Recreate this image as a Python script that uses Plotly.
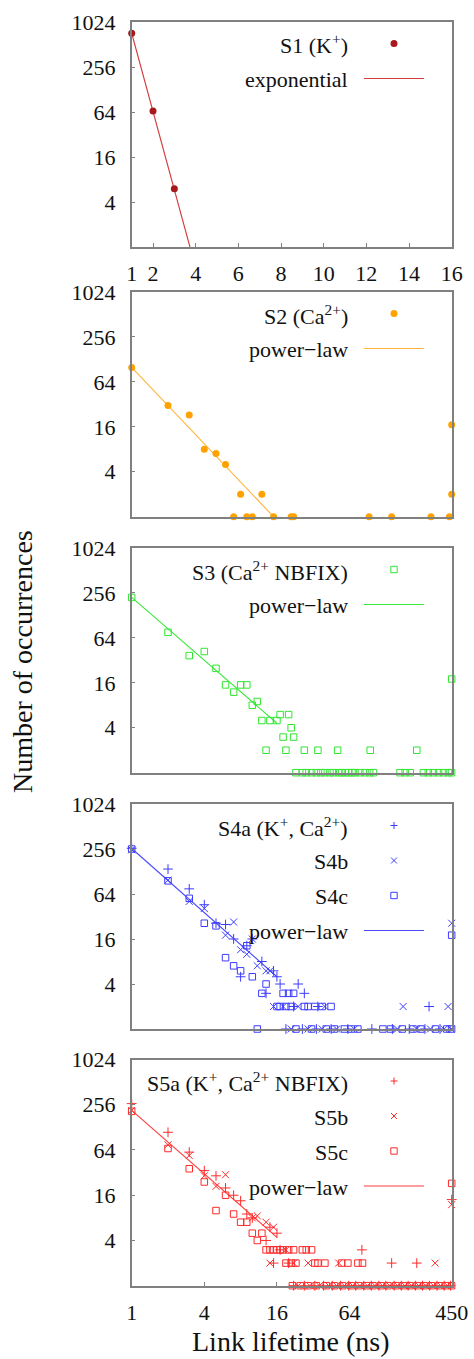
import math
import plotly.graph_objects as go

W, H = 474, 1359
FONT = "Liberation Serif"
FRAME = "#808080"
TEXT = "#111111"

# ---------------- data ----------------
# S1 (K+) with exponential fit
s1_x = [1, 2, 3]
s1_y = [724, 66, 6]
s1_fit_x = [1, 3.73]
s1_fit_y = [724, 1]

# S2 (Ca2+) with power-law fit
s2_x = [1, 2, 3, 4, 5, 6, 8, 12, 7, 9, 10, 15, 21, 22, 93, 143, 303, 431, 450, 450]
s2_y = [100, 31, 23, 8, 7, 5, 2, 2, 1, 1, 1, 1, 1, 1, 1, 1, 1, 1, 17, 2]
s2_fit_x = [1, 15]
s2_fit_y = [100, 1]

# S3 (Ca2+ NBFIX) with power-law fit
s3_x = [1, 2, 3, 4, 5, 6, 7, 8, 9, 10, 11, 12, 14, 16, 17, 20, 21, 18, 22,
        13, 19, 27, 35, 51, 95, 231, 450,
        23, 26, 28, 31, 34, 37, 40, 44, 47, 52, 55, 59, 63, 67, 71, 78, 86,
        94, 101, 168, 185, 204, 262, 288, 317, 350, 385, 423, 449]
s3_y = [223, 76, 37, 42, 25, 15, 12, 15, 15, 8, 9, 5, 5, 5, 6, 6, 4, 3, 3,
        2, 2, 2, 2, 2, 2, 2, 18,
        1, 1, 1, 1, 1, 1, 1, 1, 1, 1, 1, 1, 1, 1, 1, 1, 1,
        1, 1, 1, 1, 1, 1, 1, 1, 1, 1, 1, 1]
s3_fit_x = [1, 16]
s3_fit_y = [223, 4.6]

# S4a / S4b / S4c (K+, Ca2+) with power-law fit
s4a_x = [1, 2, 3, 4, 5, 6, 7, 8, 9, 10, 12, 15, 16, 17, 24, 13, 27, 22, 35, 292,
         19, 26, 34, 45, 62, 98, 145, 200, 270, 360]
s4a_y = [262, 138, 75, 46, 26, 25, 16, 5, 13, 16, 8, 6, 5, 4, 4, 3, 3, 2, 2, 2,
         1, 1, 1, 1, 1, 1, 1, 1, 1, 1]
s4b_x = [1, 2, 3, 4, 6, 7, 8, 9, 10, 11, 13, 14, 450,
         15, 18, 24, 40, 178, 420,
         21, 29, 38, 50, 70, 160, 230, 300, 390, 445]
s4b_y = [250, 98, 51, 41, 18, 27, 11.5, 10, 16, 7, 6, 6, 26,
         2, 2, 2, 2, 2, 2,
         1, 1, 1, 1, 1, 1, 1, 1, 1, 1]
s4c_x = [1, 2, 3, 4, 5, 6, 7, 8, 9, 10, 13, 12, 18, 20, 22, 450,
         16, 17, 19, 21, 27, 29, 33, 38, 45,
         11, 23, 31, 41, 48, 58, 66, 75, 121, 140, 175, 215, 250, 330, 410, 449]
s4c_y = [256, 96, 56, 26, 24, 9, 7, 6, 13, 5, 4, 3, 3, 3, 3, 18,
         2, 2, 2, 2, 2, 2, 2, 2, 2,
         1, 1, 1, 1, 1, 1, 1, 1, 1, 1, 1, 1, 1, 1, 1, 1]
s4_fit_x = [1, 16]
s4_fit_y = [260, 5]

# S5a / S5b / S5c (K+, Ca2+ NBFIX) with power-law fit
s5a_x = [1, 2, 3, 4, 5, 6, 7, 8, 9, 10, 13, 14, 16, 17, 81, 15, 20, 143, 231, 450,
         22, 27, 33, 39, 46, 54, 63, 72, 84, 97, 112, 128, 150, 172, 196, 225,
         258, 295, 340, 390, 440]
s5a_y = [265, 110, 60, 34, 29, 20, 16, 13.5, 9, 8, 4, 6, 5, 3, 3, 2, 2, 2, 2, 14,
         1, 1, 1, 1, 1, 1, 1, 1, 1, 1, 1, 1, 1, 1, 1, 1,
         1, 1, 1, 1, 1]
s5b_x = [1, 2, 3, 4, 5, 6, 10, 11, 13, 15, 19, 450,
         14, 22, 29, 52, 328,
         24, 30, 36, 43, 50, 58, 68, 78, 90, 104, 120, 138, 160, 184, 210, 240,
         275, 318, 365, 415]
s5b_y = [215, 75, 54, 29, 21, 30, 8, 8.5, 7, 6, 3, 12,
         2, 2, 2, 2, 2,
         1, 1, 1, 1, 1, 1, 1, 1, 1, 1, 1, 1, 1, 1, 1, 1,
         1, 1, 1, 1]
s5c_x = [1, 2, 3, 4, 5, 6, 7, 8, 9, 10, 11, 12, 450,
         13, 14, 15, 16, 17, 18, 20, 22, 26, 28, 31,
         19, 21, 23, 33, 35, 40, 55, 62, 75, 82,
         21.5, 25, 29, 34, 41, 48, 56, 66, 76, 88, 100, 116, 133, 155, 178, 202,
         232, 265, 305, 352, 400, 449]
s5c_y = [209, 67, 36, 24, 10, 16, 9, 7, 7, 5, 4, 5, 23,
         3, 3, 3, 3, 3, 3, 3, 3, 3, 3, 3,
         2, 2, 2, 2, 2, 2, 2, 2, 2, 2,
         1, 1, 1, 1, 1, 1, 1, 1, 1, 1, 1, 1, 1, 1, 1, 1,
         1, 1, 1, 1, 1, 1]
s5_fit_x = [1, 16]
s5_fit_y = [215, 4.4]

y_ticks = [4, 16, 64, 256, 1024]
x_ticks_lin = [1, 2, 4, 6, 8, 10, 12, 14, 16]
x_ticks_log = [1, 4, 16, 64, 450]

# ---------------- colours ----------------
C1, C1L = "#a8181c", "#d33a3a"
C2, C2L = "#ffa200", "#ffb43c"
C3, C3L = "#2fe62f", "#3ae83a"
C4, C4L = "#3c3cff", "#4a4aff"
C5, C5L = "#ff2a2a", "#ff3c3c"

# ---------------- geometry (pixels) ----------------
X_LEFT, X_RIGHT = 131.7, 451.7
PANELS = [(22, 247), (292, 516.7), (548, 772.7), (804, 1029), (1059.5, 1285.7)]


def fx(px):
    return px / W


def fy(py):
    return 1 - py / H


fig = go.Figure()


def axis_ref(i):
    return ("x", "y") if i == 1 else (f"x{i}", f"y{i}")


def add_points(i, xs, ys, symbol, color, size):
    xr, yr = axis_ref(i)
    fig.add_trace(go.Scatter(
        x=xs, y=ys, mode="markers", xaxis=xr, yaxis=yr,
        marker=dict(symbol=symbol, color=color, size=size,
                    line=dict(width=0 if symbol == "circle" else 1, color=color)),
        cliponaxis=False, showlegend=False, hoverinfo="skip"))


def add_fit(i, xs, ys, color):
    xr, yr = axis_ref(i)
    fig.add_trace(go.Scatter(
        x=xs, y=ys, mode="lines", xaxis=xr, yaxis=yr,
        line=dict(color=color, width=1.1),
        cliponaxis=False, showlegend=False, hoverinfo="skip"))


add_fit(1, s1_fit_x, s1_fit_y, C1L)
add_points(1, s1_x, s1_y, "circle", C1, 7)

add_fit(2, s2_fit_x, s2_fit_y, C2L)
add_points(2, s2_x, s2_y, "circle", C2, 7)

add_fit(3, s3_fit_x, s3_fit_y, C3L)
add_points(3, s3_x, s3_y, "square-open", C3, 6.5)

add_fit(4, s4_fit_x, s4_fit_y, C4L)
add_points(4, s4a_x, s4a_y, "cross-thin-open", C4, 7)
add_points(4, s4b_x, s4b_y, "x-thin-open", C4, 7)
add_points(4, s4c_x, s4c_y, "square-open", C4, 6.5)

add_fit(5, s5_fit_x, s5_fit_y, C5L)
add_points(5, s5a_x, s5a_y, "cross-thin-open", C5, 7)
add_points(5, s5b_x, s5b_y, "x-thin-open", C5, 7)
add_points(5, s5c_x, s5c_y, "square-open", C5, 6.5)

# ---------------- axes ----------------
tick_font = dict(family=FONT, size=22, color=TEXT)
layout_axes = {}
for i, (top, bot) in enumerate(PANELS, start=1):
    xr, yr = axis_ref(i)
    xname = "xaxis" if i == 1 else f"xaxis{i}"
    yname = "yaxis" if i == 1 else f"yaxis{i}"
    xa = dict(domain=[fx(X_LEFT), fx(X_RIGHT)], anchor=yr, showline=True, mirror=True,
              linecolor=FRAME, linewidth=1.5, showgrid=False, zeroline=False,
              tickfont=tick_font, tickcolor=FRAME, ticklen=4, tickwidth=1,
              automargin=False)
    if i == 1:
        xa.update(type="linear", range=[1, 16], tickvals=x_ticks_lin,
                  ticktext=[str(v) for v in x_ticks_lin], ticks="inside",
                  showticklabels=True, ticklabelstandoff=6)
    elif i == 5:
        xa.update(type="log", range=[0, math.log10(450) + 1e-9], tickvals=x_ticks_log,
                  ticktext=[str(v) for v in x_ticks_log], ticks="inside",
                  showticklabels=True, ticklabelstandoff=6)
    else:
        xa.update(type="log", range=[0, math.log10(450)], ticks="", showticklabels=False)
    ya = dict(domain=[fy(bot), fy(top)], anchor=xr, type="log",
              range=[0, math.log10(1024) + 1e-9], tickvals=y_ticks,
              ticktext=[str(v) for v in y_ticks], ticks="inside", ticklen=4,
              tickwidth=1, tickcolor=FRAME, showline=True, mirror=True,
              linecolor=FRAME, linewidth=1.5, showgrid=False, zeroline=False,
              tickfont=tick_font, ticklabelstandoff=10, automargin=False)
    layout_axes[xname] = xa
    layout_axes[yname] = ya

# ---------------- legends ----------------
LEG_TEXT_RIGHT = 350
LEG_KEY_X = 394
LEG_LINE = (364, 424)
LEG_ROW0 = 21.5
LEG_STEP = 35

legends = [
    [("S1 (K<sup>+</sup>)", "circle", C1), ("exponential", "line", C1L)],
    [("S2 (Ca<sup>2+</sup>)", "circle", C2), ("power\u2212law", "line", C2L)],
    [("S3 (Ca<sup>2+</sup> NBFIX)", "square", C3), ("power\u2212law", "line", C3L)],
    [("S4a (K<sup>+</sup>, Ca<sup>2+</sup>)", "plus", C4), ("S4b", "x", C4),
     ("S4c", "square", C4), ("power\u2212law", "line", C4L)],
    [("S5a (K<sup>+</sup>, Ca<sup>2+</sup> NBFIX)", "plus", C5), ("S5b", "x", C5),
     ("S5c", "square", C5), ("power\u2212law", "line", C5L)],
]

annotations = []
shapes = []
for (top, _), entries in zip(PANELS, legends):
    for r, (label, kind, color) in enumerate(entries):
        cy = top + LEG_ROW0 + r * LEG_STEP
        annotations.append(dict(
            text=label, x=fx(LEG_TEXT_RIGHT), y=fy(cy + 1), xref="paper", yref="paper",
            xanchor="right", yanchor="middle", showarrow=False,
            font=dict(family=FONT, size=22, color=TEXT)))
        base = dict(xref="paper", yref="paper", xsizemode="pixel", ysizemode="pixel",
                    xanchor=fx(LEG_KEY_X), yanchor=fy(cy))
        if kind == "line":
            shapes.append(dict(type="line", xref="paper", yref="paper",
                               x0=fx(LEG_LINE[0]), x1=fx(LEG_LINE[1]), y0=fy(cy), y1=fy(cy),
                               line=dict(color=color, width=1.1)))
        elif kind == "circle":
            shapes.append(dict(type="circle", x0=-3.5, x1=3.5, y0=-3.5, y1=3.5,
                               fillcolor=color, line=dict(width=0), **base))
        elif kind == "square":
            shapes.append(dict(type="rect", x0=-3.2, x1=3.2, y0=-3.2, y1=3.2,
                               line=dict(color=color, width=1), **base))
        elif kind == "plus":
            shapes.append(dict(type="path", path="M-3.5,0 L3.5,0 M0,-3.5 L0,3.5",
                               line=dict(color=color, width=1), **base))
        elif kind == "x":
            shapes.append(dict(type="path", path="M-3,-3 L3,3 M-3,3 L3,-3",
                               line=dict(color=color, width=1), **base))

# axis titles
annotations.append(dict(text="Number of occurrences", x=fx(22), y=fy(662), xref="paper",
                        yref="paper", xanchor="center", yanchor="middle", showarrow=False,
                        textangle=-90, font=dict(family=FONT, size=28, color=TEXT)))
annotations.append(dict(text="Link lifetime (ns)", x=fx(291), y=fy(1341), xref="paper",
                        yref="paper", xanchor="center", yanchor="middle", showarrow=False,
                        borderpad=0, font=dict(family=FONT, size=28, color=TEXT)))

fig.update_layout(
    width=W, height=H, margin=dict(l=0, r=0, t=0, b=0, autoexpand=False),
    paper_bgcolor="white", plot_bgcolor="white",
    showlegend=False, annotations=annotations, shapes=shapes,
    **layout_axes)

fig.write_html("out.html")
